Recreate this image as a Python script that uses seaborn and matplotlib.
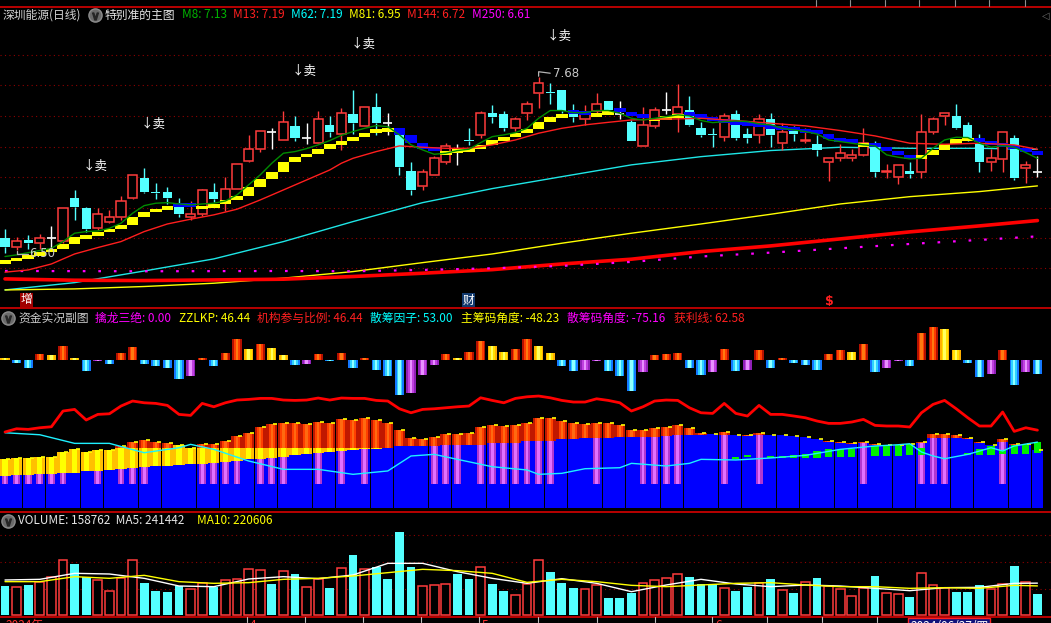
import matplotlib
matplotlib.use('Agg')
import matplotlib.pyplot as plt
import seaborn as sns
import numpy as np
from matplotlib.lines import Line2D

# ---------------- 数据 (从截图读取) ----------------
opens = [6.60, 6.54, 6.59, 6.57, 6.60, 6.58, 6.87, 6.80, 6.67, 6.71,
         6.74, 6.87, 7.00, 6.91, 6.91, 6.83, 6.74, 6.76, 6.91, 6.85,
         6.93, 7.12, 7.20, 7.31, 7.26, 7.35, 7.27, 7.24, 7.36, 7.30,
         7.43, 7.35, 7.48, 7.37, 7.30, 7.05, 6.95, 7.02, 7.11, 7.20,
         7.26, 7.29, 7.44, 7.43, 7.34, 7.44, 7.57, 7.58, 7.59, 7.44,
         7.40, 7.45, 7.52, 7.43, 7.38, 7.22, 7.35, 7.46, 7.43, 7.46,
         7.34, 7.30, 7.28, 7.43, 7.30, 7.29, 7.40, 7.24, 7.33, 7.25,
         7.23, 7.11, 7.14, 7.14, 7.16, 7.24, 7.04, 7.01, 7.05, 7.04,
         7.31, 7.42, 7.42, 7.36, 7.24, 7.11, 7.13, 7.27, 7.07, 7.04]
highs = [6.66, 6.61, 6.62, 6.63, 6.68, 6.80, 6.92, 6.81, 6.80, 6.79,
         6.88, 7.02, 7.07, 6.97, 6.94, 6.87, 6.85, 6.93, 6.97, 7.01,
         7.10, 7.29, 7.32, 7.34, 7.45, 7.42, 7.37, 7.45, 7.42, 7.47,
         7.59, 7.48, 7.57, 7.44, 7.30, 7.11, 7.06, 7.15, 7.24, 7.23,
         7.34, 7.45, 7.49, 7.45, 7.415, 7.52, 7.68, 7.64, 7.59, 7.50,
         7.49, 7.57, 7.52, 7.52, 7.39, 7.48, 7.48, 7.58, 7.63, 7.55,
         7.38, 7.34, 7.44, 7.46, 7.34, 7.43, 7.44, 7.37, 7.35, 7.34,
         7.29, 7.14, 7.23, 7.20, 7.34, 7.25, 7.10, 7.09, 7.11, 7.43,
         7.41, 7.44, 7.50, 7.38, 7.30, 7.20, 7.31, 7.29, 7.12, 7.15]
lows = [6.50, 6.52, 6.53, 6.53, 6.53, 6.57, 6.72, 6.64, 6.655, 6.70,
        6.72, 6.86, 6.90, 6.86, 6.83, 6.74, 6.72, 6.75, 6.84, 6.78,
        6.93, 7.11, 7.18, 7.20, 7.26, 7.25, 7.23, 7.24, 7.28, 7.19,
        7.30, 7.35, 7.29, 7.29, 7.02, 6.89, 6.92, 7.02, 7.10, 7.09,
        7.225, 7.27, 7.37, 7.32, 7.32, 7.39, 7.47, 7.50, 7.44, 7.38,
        7.36, 7.44, 7.43, 7.40, 7.25, 7.22, 7.34, 7.43, 7.31, 7.35,
        7.28, 7.21, 7.25, 7.26, 7.24, 7.24, 7.21, 7.19, 7.25, 7.24,
        7.15, 6.98, 7.12, 7.12, 7.15, 7.01, 7.00, 6.96, 7.00, 7.00,
        7.30, 7.36, 7.33, 7.25, 7.04, 7.05, 7.04, 6.99, 6.97, 7.01]
closes = [6.54, 6.58, 6.57, 6.60, 6.60, 6.80, 6.81, 6.66, 6.76, 6.74,
          6.85, 7.02, 6.91, 6.90, 6.87, 6.76, 6.76, 6.92, 6.86, 6.93,
          7.10, 7.20, 7.32, 7.31, 7.38, 7.27, 7.27, 7.40, 7.31, 7.44,
          7.37, 7.48, 7.37, 7.37, 7.08, 6.92, 7.04, 7.14, 7.22, 7.20,
          7.25, 7.44, 7.41, 7.34, 7.40, 7.50, 7.64, 7.575, 7.45, 7.41,
          7.43, 7.50, 7.46, 7.43, 7.25, 7.36, 7.46, 7.46, 7.48, 7.36,
          7.29, 7.29, 7.42, 7.27, 7.27, 7.40, 7.29, 7.31, 7.30, 7.26,
          7.19, 7.14, 7.17, 7.16, 7.24, 7.04, 7.05, 7.09, 7.03, 7.31,
          7.40, 7.44, 7.34, 7.26, 7.11, 7.14, 7.31, 7.00, 7.09, 7.04]

# 成交量 (千手) 与阳/阴
volume_k = [222.5, 210, 227.5, 252.5, 290, 412.5, 385, 285, 262.5, 180,
            277.5, 412.5, 242.5, 182.5, 175, 220, 195, 240, 210, 262.5,
            270, 345, 337.5, 235, 330, 310, 210, 270, 205, 352.5,
            452.5, 345, 362.5, 272.5, 625, 362.5, 217.5, 225, 235, 310,
            272.5, 360, 235, 182.5, 150, 232.5, 412.5, 325, 242.5, 205,
            195, 225, 130, 130, 170, 240, 262.5, 277.5, 307.5, 287.5,
            235, 235, 202.5, 182.5, 210, 240, 272.5, 187.5, 167.5, 247.5,
            280, 222.5, 197.5, 142.5, 202.5, 295, 165, 157.5, 137.5, 315,
            225, 207.5, 175, 175, 227.5, 197.5, 232.5, 370, 252.5, 158.762]
vol_up = [0, 1, 0, 1, 1, 1, 0, 0, 1, 1, 1, 1, 0, 0, 0, 0, 1, 1, 0, 1,
          1, 1, 1, 0, 1, 0, 1, 1, 0, 1, 0, 1, 0, 0, 0, 0, 1, 1, 1, 0,
          0, 1, 0, 0, 1, 1, 1, 0, 0, 0, 1, 1, 0, 0, 0, 1, 1, 1, 1, 0,
          0, 0, 1, 0, 0, 1, 0, 1, 0, 1, 0, 1, 1, 1, 1, 0, 1, 1, 0, 1,
          1, 1, 0, 0, 0, 1, 1, 0, 1, 0]
vma_idx = [0, 3, 6, 9, 12, 15, 18, 21, 24, 27, 30, 33, 36, 39, 42, 45,
           48, 51, 54, 57, 60, 63, 66, 69, 72, 75, 78, 81, 84, 87, 89]
vma5_k = [265, 270, 315, 310, 277.5, 220, 215, 272.5, 290, 275, 302.5,
          390, 390, 327.5, 277.5, 240, 275, 240, 177.5, 227.5, 270, 235,
          215, 227.5, 220, 202.5, 185, 207.5, 210, 240, 241.442]
vma10_k = [252.5, 252.5, 290, 277.5, 300, 252.5, 240, 245, 270, 277.5, 295,
           320, 345, 335, 315, 247.5, 270, 252.5, 225, 215, 227.5, 240,
           245, 227.5, 215, 215, 202.5, 207.5, 202.5, 225, 220.606]

# 主图均线
ma8 = [6.477, 6.488, 6.503, 6.517, 6.532, 6.577, 6.633, 6.644, 6.648, 6.666,
       6.700, 6.767, 6.818, 6.834, 6.838, 6.829, 6.823, 6.829, 6.834, 6.849,
       6.890, 6.957, 7.024, 7.102, 7.169, 7.180, 7.200, 7.225, 7.254, 7.289,
       7.314, 7.336, 7.354, 7.347, 7.292, 7.225, 7.191, 7.162, 7.169, 7.187,
       7.196, 7.240, 7.280, 7.292, 7.307, 7.336, 7.403, 7.455, 7.455, 7.441,
       7.441, 7.455, 7.455, 7.437, 7.403, 7.392, 7.403, 7.414, 7.426, 7.419,
       7.388, 7.374, 7.381, 7.385, 7.381, 7.365, 7.359, 7.336, 7.325, 7.314,
       7.298, 7.258, 7.247, 7.236, 7.225, 7.218, 7.158, 7.142, 7.131, 7.135,
       7.202, 7.258, 7.276, 7.274, 7.236, 7.209, 7.220, 7.209, 7.173, 7.135]
ma13_idx = [0, 2, 4, 6, 8, 10, 12, 14, 16, 18, 20, 22, 24, 26, 28, 29, 30, 32,
            34, 36, 38, 40, 42, 44, 46, 48, 50, 52, 54, 56, 58, 60, 63, 66,
            69, 72, 75, 78, 81, 84, 87, 89]
ma13 = [6.372, 6.387, 6.427, 6.494, 6.537, 6.577, 6.644, 6.695, 6.727, 6.756,
        6.794, 6.856, 6.923, 6.990, 7.057, 7.102, 7.135, 7.180, 7.218, 7.209,
        7.202, 7.202, 7.225, 7.258, 7.303, 7.336, 7.359, 7.376, 7.392, 7.397,
        7.399, 7.403, 7.388, 7.370, 7.352, 7.321, 7.285, 7.236, 7.229, 7.236,
        7.225, 7.195]
long_idx = [0, 6, 12, 18, 24, 30, 36, 42, 48, 54, 60, 66, 72, 78, 84, 89]
ma62 = [6.253, 6.302, 6.380, 6.461, 6.577, 6.711, 6.838, 6.932, 7.012, 7.091,
        7.146, 7.187, 7.209, 7.202, 7.202, 7.195]
ma81 = [6.253, 6.260, 6.276, 6.298, 6.332, 6.376, 6.436, 6.494, 6.566, 6.633,
        6.695, 6.760, 6.829, 6.878, 6.912, 6.950]
ma144 = [6.327, 6.318, 6.316, 6.320, 6.325, 6.343, 6.365, 6.389, 6.427, 6.459,
         6.510, 6.548, 6.595, 6.642, 6.682, 6.718]
ma250_idx = [0, 12, 24, 30, 36, 42, 48, 54, 60, 66, 72, 78, 84, 89]
ma250 = [6.380, 6.378, 6.380, 6.378, 6.387, 6.398, 6.414, 6.441, 6.477, 6.503,
         6.532, 6.561, 6.588, 6.612]
# 特别准 阶梯带
band = [6.454, 6.470, 6.488, 6.508, 6.530, 6.564, 6.606, 6.622, 6.642, 6.664,
        6.686, 6.740, 6.778, 6.798, 6.816, 6.811, 6.809, 6.818, 6.829, 6.856,
        6.885, 6.941, 6.997, 7.046, 7.108, 7.142, 7.167, 7.200, 7.229, 7.251,
        7.276, 7.307, 7.330, 7.338, 7.292, 7.236, 7.196, 7.184, 7.184, 7.196,
        7.202, 7.225, 7.258, 7.280, 7.303, 7.332, 7.381, 7.414, 7.432, 7.430,
        7.426, 7.441, 7.452, 7.443, 7.419, 7.403, 7.408, 7.419, 7.430, 7.421,
        7.408, 7.388, 7.374, 7.361, 7.352, 7.343, 7.334, 7.325, 7.316, 7.307,
        7.301, 7.263, 7.247, 7.238, 7.240, 7.213, 7.187, 7.158, 7.133, 7.158,
        7.191, 7.231, 7.263, 7.274, 7.242, 7.222, 7.213, 7.200, 7.175, 7.155]
sell_x = [7.76, 12.76, 25.8, 30.9, 47.8]
sell_y = [7.084, 7.359, 7.720, 7.901, 7.955]

# 资金实况副图
top_vals = [1.9, -2.7, -6.4, 4.5, 3.7, 11.2, 1.3, -8.8, -1.1, -3.2,
            5.3, 10.1, -3.2, -4.8, -6.4, -15.5, -12.8, 1.9, -4.8, 5.3,
            16.5, 8.5, 12.5, 9.3, 3.7, -4.0, -3.2, 4.5, -0.8, 5.3,
            -6.4, 1.3, -8.0, -12.8, -28.3, -26.4, -12.0, -4.0, 4.5, 1.9,
            6.1, 14.9, 10.9, 6.1, 8.5, 16.5, 10.9, 5.3, -4.8, -8.8,
            -8.0, -1.1, -8.8, -12.8, -24.8, -9.6, 3.7, 4.5, 5.3, -6.4,
            -12.0, -9.6, 8.5, -8.8, -8.0, 7.7, -6.4, 1.3, -2.4, -4.0,
            -8.0, 4.5, 7.7, 6.1, 12.5, -9.6, -6.4, -0.8, -4.8, 21.3,
            26.4, 24.5, 7.7, -2.4, -13.6, -11.2, 7.7, -20.0, -9.6, -11.2]
top_kind = ("yccryrycmc" "rrccccmrcr" "ryryycmrcr" "crcccmmmry" "rryyrryycc"
            "mmcccmrrrc" "cmrcmrcrcc" "crryrcmmcr" "ryyccmrcmc")
top_base = 118.7
blue_top = [25.9, 26.4, 26.4, 27.2, 27.2, 28.0, 28.5, 29.9, 29.9, 30.4,
            31.2, 32.0, 33.1, 33.9, 33.9, 34.4, 35.2, 35.2, 36.0, 37.1,
            37.9, 39.2, 39.2, 40.0, 41.1, 42.4, 43.2, 44.0, 45.1, 45.6,
            46.4, 47.2, 47.7, 48.5, 49.9, 49.9, 49.9, 49.9, 50.4, 50.4,
            50.4, 50.9, 52.0, 52.0, 52.5, 53.9, 53.9, 53.9, 55.2, 55.2,
            56.0, 56.0, 56.5, 57.1, 57.1, 57.3, 57.3, 57.9, 58.4, 58.7,
            58.7, 59.2, 58.7, 58.4, 57.9, 58.4, 58.7, 58.4, 57.9, 57.1,
            55.2, 53.3, 52.5, 51.7, 52.5, 50.4, 50.4, 50.4, 51.2, 52.0,
            56.0, 56.0, 56.0, 55.7, 52.0, 50.4, 53.3, 50.4, 50.4, 46.44]
yellow_top = [39.2, 40.0, 40.0, 41.1, 41.1, 45.1, 47.2, 45.3, 46.4, 46.7,
              48.5, 48.5, 48.5, 48.5, 48.5, 50.4, 48.5, 48.5, 48.5, 48.5,
              48.5, 48.5, 48.5, 48.5, 48.5, 48.5, 48.5, 48.5, 48.5, 48.5,
              48.5, 48.5, 48.5, 48.5]
stack_top = [39.2, 40.0, 40.0, 41.1, 41.1, 45.1, 47.2, 45.3, 46.4, 46.7,
             49.9, 53.3, 54.4, 53.3, 52.5, 50.4, 48.5, 51.2, 51.2, 53.9,
             57.9, 60.5, 65.3, 67.2, 68.5, 68.0, 67.2, 69.3, 68.5, 71.2,
             70.4, 72.0, 70.4, 68.5, 62.4, 56.0, 55.2, 57.1, 59.2, 59.7,
             60.5, 65.1, 66.4, 65.9, 66.4, 68.5, 72.0, 72.0, 69.6, 68.0,
             67.2, 68.0, 68.0, 66.4, 62.4, 62.4, 64.5, 65.3, 66.4, 64.0,
             60.5, 59.7, 61.3, 58.7, 58.4, 60.0, 58.7, 58.7, 57.9, 57.1,
             55.7, 53.9, 53.3, 52.5, 53.3, 51.2, 50.4, 50.4, 51.7, 53.3,
             59.2, 59.2, 58.4, 56.0, 53.3, 50.9, 55.7, 51.2, 51.2, 46.44]
magenta_idx = [0, 1, 2, 3, 4, 5, 8, 10, 11, 12, 17, 18, 19, 20, 22, 23, 24, 27,
               29, 31, 37, 38, 39, 41, 42, 43, 44, 45, 46, 47, 51, 55, 56, 57,
               58, 62, 65, 74, 79, 80, 81, 86]
magenta_base = 19.2
green_idx = [63, 64, 66, 67, 68, 69, 70, 71, 72, 73, 75, 76, 77, 78, 79,
             83, 84, 85, 86, 87, 88, 89]
green_lo = [39.7, 40.8, 40.5, 40.5, 40.3, 40.3, 40.3, 41.1, 41.1, 41.1, 41.9,
            41.9, 41.9, 42.4, 42.4, 42.4, 42.4, 42.4, 43.2, 43.2, 43.2, 44.0]
green_hi = [41.1, 42.4, 41.9, 41.9, 42.4, 43.5, 45.6, 47.2, 47.7, 47.7, 49.9,
            50.9, 50.7, 51.7, 48.0, 44.0, 47.7, 49.6, 46.4, 50.9, 51.2, 53.3]
scatter_idx = [0, 3, 6, 9, 12, 15, 16, 18, 21, 24, 27, 30, 33, 35, 37, 39, 42,
               45, 46, 48, 50, 53, 54, 57, 59, 60, 63, 66, 69, 72, 75, 77, 78,
               79, 80, 81, 83, 85, 86, 87, 89]
scatter_factor = [60.5, 58.9, 52.0, 52.0, 44.5, 48.5, 51.2, 47.2, 37.9, 31.2,
                  31.2, 27.2, 29.9, 41.9, 43.2, 39.2, 33.3, 30.7, 27.2, 28.0,
                  31.7, 32.5, 36.0, 33.9, 36.0, 39.2, 38.7, 40.3, 42.4, 47.2,
                  49.9, 50.9, 51.7, 45.1, 41.9, 39.7, 43.2, 48.5, 45.9, 49.9, 53.0]
profit_line = [61.1, 63.7, 63.2, 64.5, 65.3, 77.9, 79.2, 70.7, 75.2, 75.7,
               81.9, 85.9, 84.5, 84.0, 82.4, 75.2, 74.4, 84.0, 81.3, 84.5,
               86.7, 87.2, 88.0, 88.0, 86.7, 86.4, 86.7, 88.3, 86.7, 88.3,
               88.0, 88.0, 86.4, 85.9, 79.7, 76.5, 79.2, 79.7, 80.5, 81.3,
               81.9, 88.5, 86.4, 84.5, 88.0, 89.3, 89.9, 88.5, 86.4, 85.1,
               85.1, 87.7, 86.4, 84.5, 77.9, 81.3, 85.9, 86.7, 86.4, 80.5,
               76.5, 76.0, 84.0, 76.0, 73.9, 82.4, 75.2, 75.2, 73.9, 72.5,
               69.9, 68.0, 68.0, 69.1, 71.2, 66.4, 65.9, 65.9, 65.1, 76.5,
               83.2, 86.4, 79.7, 72.5, 65.9, 65.9, 77.1, 61.6, 64.5, 62.58]

# ---------------- 画布 ----------------
sns.set_style('dark')
plt.rcParams['font.family'] = ['Noto Sans CJK SC', 'DejaVu Sans']
plt.rcParams['axes.unicode_minus'] = False

W, H = 1051, 623
fig = plt.figure(figsize=(W / 100, H / 100), dpi=100, facecolor='black')


def fx(px):
    return px / W


def fy(py):
    return 1 - py / H


def panel(top, bottom):
    ax = fig.add_axes([0, fy(bottom), 1, (bottom - top) / H])
    ax.set_facecolor('black')
    ax.set_axis_off()
    ax.set_xlim(-0.431, 90.17)
    return ax


def hline(py, color='#d80000', lw=1.2, x0=0, x1=W):
    fig.add_artist(Line2D([fx(x0), fx(x1)], [fy(py), fy(py)], color=color, lw=lw,
                          transform=fig.transFigure))


def button(px, py):
    fig.add_artist(Line2D([fx(px)], [fy(py)], marker='o', ms=9.5, color='#6a6a6a',
                          mec='#8c8c8c', transform=fig.transFigure))
    fig.add_artist(Line2D([fx(px)], [fy(py) - 0.001], marker=r'$\vee$', ms=5,
                          color='#262626', transform=fig.transFigure))


def label(px, py, s, color, size=8.5, **kw):
    fig.text(fx(px), fy(py), s, color=color, fontsize=size, va='center', ha='left', **kw)


n = len(closes)
x = np.arange(n)
o, h, l, c = map(np.array, (opens, highs, lows, closes))

UP, DOWN, DOJI = '#ff3c3c', '#54ffff', '#ffffff'

# ================= 主图 =================
ax = panel(8, 308)
ax.set_ylim(6.132, 8.142)
for p in [7.83, 7.625, 7.42, 7.21, 7.01, 6.80, 6.60, 6.40]:
    ax.axhline(p, color='#900000', ls=(0, (1, 3)), lw=0.8, zorder=1)

# 长期均线
sns.lineplot(x=long_idx, y=ma62, ax=ax, color='#1ee6e6', linewidth=1.0, zorder=2)
sns.lineplot(x=long_idx, y=ma81, ax=ax, color='#ffff00', linewidth=1.0, zorder=2)
sns.lineplot(x=long_idx, y=ma144, ax=ax, color='#ff0000', linewidth=2.6, zorder=2)
ax.plot(ma250_idx, ma250, color='#ff00ff', lw=1.6, ls=(0, (1.2, 5.8)), zorder=2)

# K线
bw = 0.78
for i in range(n):
    top, bot = max(o[i], c[i]), min(o[i], c[i])
    if c[i] > o[i]:
        col = UP
    elif c[i] < o[i]:
        col = DOWN
    else:
        col = DOJI
    ax.vlines(i, top, h[i], color=col, lw=1.0, zorder=3)
    ax.vlines(i, l[i], bot, color=col, lw=1.0, zorder=3)
    if col == DOJI:
        ax.hlines(c[i], i - bw / 2, i + bw / 2, color=col, lw=1.2, zorder=3)
    elif col == UP:
        ax.bar(i, top - bot, bottom=bot, width=bw, facecolor='black', edgecolor=col,
               lw=1.1, zorder=3)
    else:
        ax.bar(i, top - bot, bottom=bot, width=bw, color=col, lw=0, zorder=3)

# 阶梯带
t = 0.026
for i in range(n):
    prev = band[i - 1] if i > 0 else band[i] - t
    cur = band[i]
    if cur >= prev:
        lo, hi, col = min(prev, cur - t), cur, '#ffff00'
    else:
        lo, hi, col = cur, max(prev, cur + t), '#0000ff'
    ax.bar(i, hi - lo, bottom=lo, width=1.0, color=col, lw=0, zorder=4)

sns.lineplot(x=ma13_idx, y=ma13, ax=ax, color='#ff1e1e', linewidth=1.0, zorder=5)
sns.lineplot(x=x, y=ma8, ax=ax, color='#008c00', linewidth=1.0, zorder=5)

# 最高 / 最低 标记
ih, il = int(np.argmax(h)), int(np.argmin(l))
ax.plot([ih, ih, ih + 1.0], [h[ih] + 0.005, h[ih] + 0.035, h[ih] + 0.025], color='#b4b4b4', lw=0.9, zorder=6)
ax.text(ih + 1.2, h[ih] + 0.02, '7.68', color='#c8c8c8', fontsize=8.5, va='center', ha='left',
        family='DejaVu Sans', zorder=6)
ax.plot([il + 1.0, il + 1.0, il + 2.0], [l[il] + 0.015, l[il] - 0.005, l[il] - 0.005], color='#b4b4b4', lw=0.9, zorder=6)
ax.text(il + 2.1, l[il] - 0.005, '6.50', color='#c8c8c8', fontsize=8.5, va='center', ha='left',
        family='DejaVu Sans', zorder=6)

for sx, sy in zip(sell_x, sell_y):
    ax.text(sx, sy, '↓卖', color='white', fontsize=9, ha='center', va='center', zorder=6)

# 底部事件标记
label(21, 300, '增', 'white', 8.5, bbox=dict(boxstyle='square,pad=0.05', fc='#a00000', ec='none'))
label(463, 300, '财', 'white', 8.5, bbox=dict(boxstyle='square,pad=0.05', fc='#123a6e', ec='none'))
label(825, 301, '$', '#ff2020', 9, family='DejaVu Sans', fontweight='bold')

# ================= 资金实况副图 =================
ax2 = panel(309, 512)
ax2.set_ylim(-2.96, 159.6)

palette = {'r': ('#b41000', '#ff3c00', '#ff7a10'),
           'y': ('#ffb000', '#ffe000', '#ffff60'),
           'c': ('#1478ff', '#2ed2ff', '#90ffff'),
           'm': ('#9020b8', '#c040e0', '#e890ff')}
for i, (v, k) in enumerate(zip(top_vals, top_kind)):
    c0, c1, c2 = palette[k]
    bot, hgt = (top_base, v) if v >= 0 else (top_base + v, -v)
    ax2.bar(i, hgt, bottom=bot, width=0.78, color=c0, lw=0, zorder=2)
    ax2.bar(i, hgt, bottom=bot, width=0.5, color=c1, lw=0, zorder=2)
    ax2.bar(i, hgt, bottom=bot, width=0.2, color=c2, lw=0, zorder=2)

ax2.bar(x, blue_top, width=0.96, color='#0000ff', lw=0, zorder=2)
for i in magenta_idx:
    ax2.bar(i, blue_top[i] - magenta_base, bottom=magenta_base, width=0.6, color='#b038d0', lw=0, zorder=3)
    ax2.bar(i, blue_top[i] - magenta_base, bottom=magenta_base, width=0.25, color='#e070ff', lw=0, zorder=3)
for i in range(len(yellow_top)):
    if yellow_top[i] > blue_top[i]:
        ax2.bar(i, yellow_top[i] - blue_top[i], bottom=blue_top[i], width=0.96, color='#ffc000', lw=0, zorder=3)
        ax2.bar(i, yellow_top[i] - blue_top[i], bottom=blue_top[i], width=0.45, color='#ffff00', lw=0, zorder=3)
for i in range(n):
    base = yellow_top[i] if i < len(yellow_top) else blue_top[i]
    base = max(base, blue_top[i])
    if stack_top[i] > base:
        ax2.bar(i, stack_top[i] - base, bottom=base, width=0.96, color='#c01800', lw=0, zorder=3)
        ax2.bar(i, stack_top[i] - base, bottom=base, width=0.55, color='#ff4000', lw=0, zorder=3)
        ax2.bar(i, stack_top[i] - base, bottom=base, width=0.2, color='#ff6a10', lw=0, zorder=3)
for i, lo, hi in zip(green_idx, green_lo, green_hi):
    ax2.bar(i, hi - lo, bottom=lo, width=0.62, color='#00f000', lw=0, zorder=4)
ax2.plot(x + 0.3, stack_top, ls='none', marker='_', ms=3, mew=1.2, color='#ffff00', zorder=5)
sns.lineplot(x=scatter_idx, y=scatter_factor, ax=ax2, color='#1ef0ff', linewidth=1.0, zorder=5)
sns.lineplot(x=x, y=profit_line, ax=ax2, color='#ff0000', linewidth=2.0, zorder=5)

# ================= 成交量 =================
ax3 = panel(513, 617)
ax3.set_ylim(-12500, 767500)
for v in [200000, 400000, 600000]:
    ax3.axhline(v, color='#900000', ls=(0, (1, 3)), lw=0.8, zorder=1)
vol = np.array(volume_k) * 1000
up = np.array(vol_up) == 1
ax3.bar(x[up], vol[up], width=0.75, facecolor='black', edgecolor=UP, lw=1.1, zorder=2)
ax3.bar(x[~up], vol[~up], width=0.75, color=DOWN, lw=0, zorder=2)
sns.lineplot(x=vma_idx, y=np.array(vma5_k) * 1000, ax=ax3, color='white', linewidth=1.0, zorder=3)
sns.lineplot(x=vma_idx, y=np.array(vma10_k) * 1000, ax=ax3, color='#ffff00', linewidth=1.0, zorder=3)

# ================= 分隔线与标题 =================
hline(7)
hline(308)
hline(512)
hline(617)
for bx in [816, 850, 885, 919, 955, 989, 1025]:
    fig.add_artist(Line2D([fx(bx), fx(bx)], [fy(0), fy(6)], color='#909090', lw=0.8,
                          transform=fig.transFigure))
label(1042, 16, '◁', '#707070', 7, family='DejaVu Sans')

label(3, 15, '深圳能源(日线)', '#d2d2d2')
button(95, 15)
label(105, 15, '特别准的主图', '#e6e6e6')
for px, s, col in [(182, 'M8: 7.13', '#00b400'), (233, 'M13: 7.19', '#ff2020'),
                   (291, 'M62: 7.19', '#00ffff'), (349, 'M81: 6.95', '#ffff00'),
                   (407, 'M144: 6.72', '#ff2020'), (472, 'M250: 6.61', '#ff00ff')]:
    label(px, 15, s, col)

button(8, 318)
label(18, 318, '资金实况副图', '#c8c8c8')
for px, s, col in [(95, '擒龙三绝: 0.00', '#ff00ff'), (179, 'ZZLKP: 46.44', '#ffff00'),
                   (257, '机构参与比例: 46.44', '#ff2020'), (370, '散筹因子: 53.00', '#00ffff'),
                   (461, '主筹码角度: -48.23', '#ffff00'), (567, '散筹码角度: -75.16', '#ff00ff'),
                   (674, '获利线: 62.58', '#ff2020')]:
    label(px, 318, s, col)

button(8, 521)
label(18, 521, 'VOLUME: 158762  MA5: 241442', '#e6e6e6')
label(197, 521, 'MA10: 220606', '#ffff00')

# 底部日期轴
for tx in [247, 305, 363, 421, 479, 538, 597, 655, 712, 767, 822, 877]:
    fig.add_artist(Line2D([fx(tx), fx(tx)], [fy(617), fy(622)], color='#c0c0c0', lw=0.8,
                          transform=fig.transFigure))
fig.text(fx(5), fy(619), '2024年', color='#ff3030', fontsize=8.5, va='top', ha='left')
fig.text(fx(250), fy(619), '4', color='#ff3030', fontsize=8.5, va='top', ha='left')
fig.text(fx(482), fy(619), '5', color='#ff3030', fontsize=8.5, va='top', ha='left')
fig.text(fx(715), fy(619), '6', color='#ff3030', fontsize=8.5, va='top', ha='left')
fig.text(fx(910), fy(620), '2024/06/27/四', color='white', fontsize=8.5, va='top', ha='left',
         bbox=dict(boxstyle='square,pad=0.15', fc='#10107a', ec='#ff2020', lw=1))

fig.savefig('out.png', dpi=100, facecolor='black')
